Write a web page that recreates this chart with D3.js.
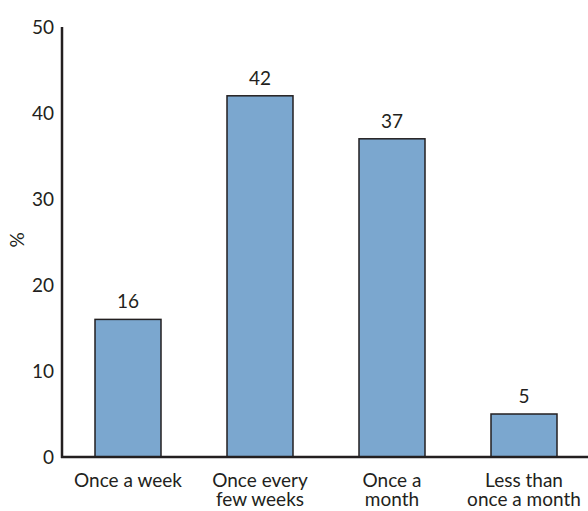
<!DOCTYPE html>
<html><head><meta charset="utf-8">
<script src="https://cdn.jsdelivr.net/npm/d3@7"></script>
<style>body{margin:0;background:#fff}svg{display:block}text{font-family:Lato,"Open Sans",sans-serif;fill:#231f20}</style>
</head><body>
<svg id="c" width="588" height="511"></svg>
<script>
const categories = [["Once a week"], ["Once every", "few weeks"], ["Once a", "month"], ["Less than", "once a month"]];
const values = [16, 42, 37, 5];
const yTicks = [0, 10, 20, 30, 40, 50];

const FS = 19;
const svg = d3.select("#c");
const x = d3.scaleBand().domain(d3.range(categories.length)).range([62, 590]).paddingInner(0.5).paddingOuter(0.25);
const y = d3.scaleLinear().domain([0, 50]).range([457, 27]);

svg.selectAll("rect.bar").data(values).join("rect").attr("class","bar")
  .attr("x",(d,i)=>x(i)).attr("width",x.bandwidth())
  .attr("y",d=>y(d)).attr("height",d=>y(0)-y(d))
  .attr("fill","#7ba7cf").attr("stroke","#231f20").attr("stroke-width",1.5);

svg.selectAll("text.val").data(values).join("text").attr("class","val")
  .attr("x",(d,i)=>x(i)+x.bandwidth()/2).attr("y",d=>y(d)-11)
  .attr("text-anchor","middle").attr("font-size",FS).text(d=>d);

const yAxis = d3.axisLeft(y).tickValues(yTicks).tickSize(0).tickPadding(8);
const gy = svg.append("g").attr("transform","translate(62,0)").call(yAxis);
gy.select(".domain").remove();
gy.selectAll("text").attr("font-size",FS).style("font-family","Lato, sans-serif").attr("fill","#231f20");

svg.append("line").attr("x1",62).attr("x2",62).attr("y1",y(50)).attr("y2",y(0)+1).attr("stroke","#231f20").attr("stroke-width",2.5);
svg.append("line").attr("x1",61).attr("x2",588).attr("y1",y(0)).attr("y2",y(0)).attr("stroke","#231f20").attr("stroke-width",2.5);

const xl = svg.selectAll("text.cat").data(categories).join("text").attr("class","cat")
  .attr("x",(d,i)=>x(i)+x.bandwidth()/2).attr("y",487).attr("text-anchor","middle").attr("font-size",FS);
xl.selectAll("tspan").data(d=>d).join("tspan").attr("x",function(){return this.parentNode.getAttribute("x");})
  .attr("dy",(d,i)=>i?19:0).text(d=>d);

svg.append("text").attr("transform","translate(24,240) rotate(-90)").attr("text-anchor","middle").attr("font-size",FS).text("%");
</script>
</body></html>
